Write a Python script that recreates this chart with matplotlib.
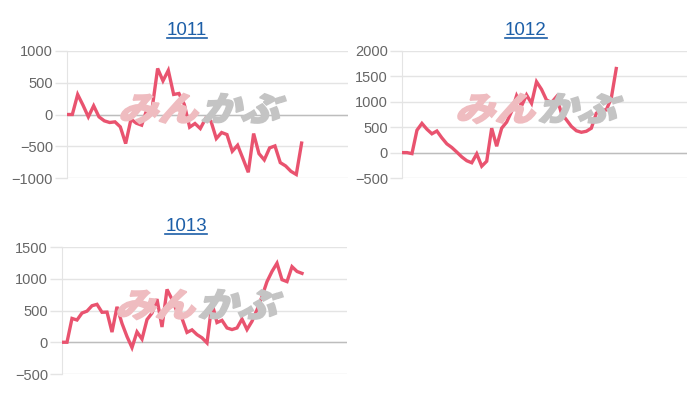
import numpy as np
import matplotlib
matplotlib.use("Agg")
import matplotlib.pyplot as plt
from matplotlib.lines import Line2D
from matplotlib.textpath import TextPath
from matplotlib.patches import PathPatch
from matplotlib.font_manager import FontProperties
from matplotlib.transforms import Affine2D, IdentityTransform

plt.rcParams['font.family'] = ['Liberation Sans', 'DejaVu Sans']

# values
codes = ["1011", "1012", "1013"]
s1011 = [0, 0, 315, 147, -37, 137, -37, -100, -126, -116, -195, -458, -74, -137,
         -168, 84, 116, 725, 530, 695, 316, 331, 158, -200, -142, -221, -63, -105,
         -379, -284, -316, -579, -484, -695, -910, -300, -616, -715, -526, -495,
         -758, -810, -895, -945, -450]
s1012 = [0, 0, -20, 440, 575, 460, 370, 425, 290, 172, 100, 10, -85, -160, -200,
         -25, -268, -170, 480, 125, 480, 600, 810, 1120, 920, 1135, 970, 1395, 1245,
         1035, 985, 1100, 775, 645, 515, 430, 400, 420, 480, 775, 840, 840, 1070, 1655]
s1013 = [0, 0, 375, 350, 460, 490, 575, 597, 472, 475, 160, 558, 296, 90, -84, 163,
         50, 357, 459, 680, 240, 832, 676, 480, 375, 155, 195, 120, 70, -10, 615, 310,
         345, 225, 200, 225, 365, 200, 330, 510, 720, 955, 1115, 1245, 985, 955, 1190,
         1115, 1085]
series = [s1011, s1012, s1013]
yticks = [np.arange(-1000, 1001, 500), np.arange(-500, 2001, 500), np.arange(-500, 1501, 500)]
xmax = [52.7, 57.2, 57.0]

W, H = 700, 400
# axes boxes in pixels: left, top, right, bottom
boxes = [(67, 51, 348, 178), (402, 51, 687, 178), (62, 247, 347, 374)]
titles_at = [(187, 35), (526, 35), (186, 231)]

line_color = '#e9536f'
grid_color = '#e4e4e4'
zero_color = '#bdbdbd'

fig = plt.figure(figsize=(W / 100, H / 100), dpi=100)

cjk = FontProperties(family='Noto Sans CJK JP', weight='black')


def watermark(cx, cy, w=165, h=30):
    p1 = TextPath((0, 0), "みん", prop=cjk, size=40)
    b1 = p1.get_extents()
    p2 = TextPath((b1.x1 + 4, 0), "かぶ", prop=cjk, size=40)
    skew = Affine2D().skew_deg(16, 0)
    p1 = skew.transform_path(p1)
    p2 = skew.transform_path(p2)
    e1, e2 = p1.get_extents(), p2.get_extents()
    x0, x1 = min(e1.x0, e2.x0), max(e1.x1, e2.x1)
    y0, y1 = min(e1.y0, e2.y0), max(e1.y1, e2.y1)
    t = (Affine2D().translate(-(x0 + x1) / 2, -(y0 + y1) / 2)
         .scale(w / (x1 - x0), h / (y1 - y0))
         .translate(cx, H - cy))
    for p, c in [(p1, '#efbcc0'), (p2, '#c4c4c4')]:
        fig.patches.append(PathPatch(t.transform_path(p), facecolor=c, edgecolor=c,
                                     lw=1.2, transform=IdentityTransform(), zorder=0.5))


for i, s in enumerate(series):
    l, t, r, b = boxes[i]
    ax = fig.add_axes([l / W, 1 - b / H, (r - l) / W, (b - t) / H])
    ax.set_facecolor('none')
    x = np.arange(len(s))
    ax.plot(x, s, color=line_color, lw=2.4, solid_joinstyle='miter', zorder=3)
    ax.set_xlim(0, xmax[i])
    ax.set_ylim(yticks[i][0], yticks[i][-1])
    ax.set_yticks(yticks[i])
    ax.set_xticks([])
    ax.grid(axis='y', color=grid_color, lw=1, zorder=1)
    ax.axhline(0, color=zero_color, lw=1, zorder=2)
    for side in ['top', 'right', 'bottom']:
        ax.spines[side].set_visible(False)
    ax.spines['left'].set_color(grid_color)
    ax.tick_params(axis='y', length=9, width=1, color=grid_color, pad=1,
                   labelsize=10.5, labelcolor='#666666')
    ax.set_axisbelow(True)

    watermark((l + r) / 2 - 4, (t + b) / 2 - 6)

    tx, ty = titles_at[i]
    fig.text(tx / W, 1 - ty / H, codes[i], ha='center', va='baseline',
             fontsize=13.5, color='#1d5fa8')

fig.canvas.draw()
renderer = fig.canvas.get_renderer()
for txt in fig.texts:
    bb = txt.get_window_extent(renderer)
    yb = (bb.y0 + 1) / H
    fig.lines.append(Line2D([bb.x0 / W, bb.x1 / W], [yb, yb], color='#1d5fa8',
                            lw=1.2, transform=fig.transFigure))

fig.savefig("out.png", dpi=100)
